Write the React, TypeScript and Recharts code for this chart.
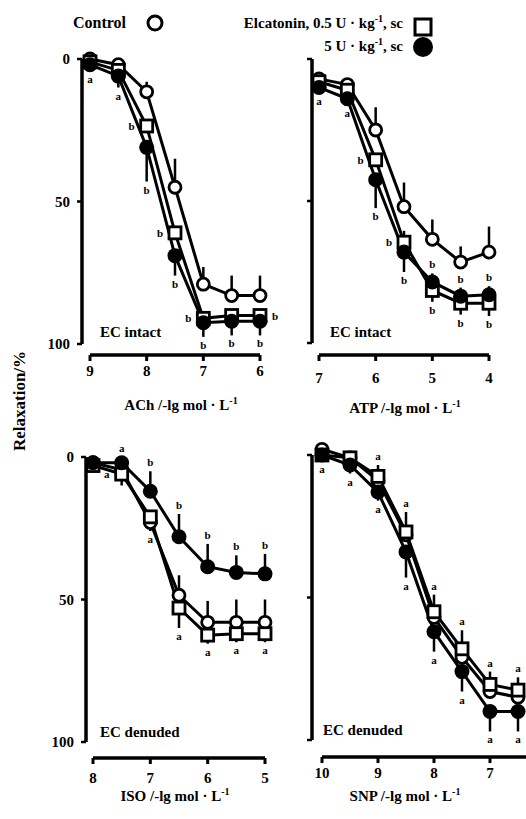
import React from 'react'
import { LineChart, Line, XAxis, YAxis, ErrorBar, ReferenceLine } from 'recharts'

const FONT = '"Liberation Serif", "DejaVu Serif", serif'

// ACh, EC intact (x = -lg mol/L, y = relaxation %)
const ACH_X = [9, 8.5, 8, 7.5, 7, 6.5, 6]
const ACH_CTL = [0, 2, 11.5, 45, 79, 83, 83]
const ACH_SQ = [1, 4, 23.5, 61, 91, 90, 90]
const ACH_FC = [2, 6, 31, 69, 92.5, 92, 92]
// signed error bars: negative = drawn upward, positive = downward
const ACH_CTL_ERR = [0, 0, -3.5, -10, -6, -7, -7]
const ACH_SQ_ERR = [0, 0, 0, 0, 0, 0, 0]
const ACH_FC_ERR = [0, 4, 12, 7, 5, 5, 5]
const ACH_FC_BELOW = ['a', 'a', 'b', 'b', 'b', 'b', 'b']
const ACH_SQ_LEFT = ['', '', 'b', 'b', 'b', '', '']
const ACH_SQ_RIGHT = ['', '', '', '', '', '', 'b']

// ATP, EC intact
const ATP_X = [7, 6.5, 6, 5.5, 5, 4.5, 4]
const ATP_CTL = [7, 9, 25, 52, 63.5, 71.5, 68]
const ATP_SQ = [8, 11, 35.5, 64.5, 81.5, 86, 86]
const ATP_FC = [10, 14, 42.5, 68, 78.5, 83.5, 83]
const ATP_CTL_ERR = [0, 0, -8, -8.5, -7, -5.5, -9]
const ATP_SQ_ERR = [0, 0, 0, -4, 4, 4, 4.5]
const ATP_FC_ERR = [0, 2, 10, 7, -3, -3, -3]
const ATP_FC_BELOW = ['a', 'a', 'b', 'b', '', '', '']
const ATP_FC_ABOVE = ['', '', '', '', 'b', 'b', 'b']
const ATP_SQ_LEFT = ['', '', 'b', 'b', '', '', '']
const ATP_SQ_BELOW = ['', '', '', '', 'b', 'b', 'b']

// ISO, EC denuded
const ISO_X = [8, 7.5, 7, 6.5, 6, 5.5, 5]
const ISO_CTL = [2, 4.5, 23, 48.5, 58, 58, 58]
const ISO_SQ = [3, 6, 21, 53, 62.5, 62, 62]
const ISO_FC = [2, 2, 12, 28, 38.5, 40.5, 41]
const ISO_CTL_ERR = [0, 0, 0, -7, -7.5, -8, -8]
const ISO_SQ_ERR = [0, 4, 5, 7, 3, 3, 3]
const ISO_FC_ERR = [0, 0, -7, -8, -8, -6, -7]
const ISO_FC_ABOVE = ['', 'a', 'b', 'b', 'b', 'b', 'b']
const ISO_SQ_LEFT = ['', 'a', '', '', '', '', '']
const ISO_SQ_BELOW = ['', '', 'a', 'a', 'a', 'a', 'a']

// SNP, EC denuded
const SNP_X = [10, 9.5, 9, 8.5, 8, 7.5, 7, 6.5]
const SNP_CTL = [-2, 1, 9, 28, 57, 71, 83, 85]
const SNP_SQ = [0, 1, 7.5, 27, 55, 68, 80.5, 82.5]
const SNP_FC = [0, 3.5, 13, 34, 62, 76, 90, 90]
const SNP_CTL_ERR = [0, 0, 0, 0, 0, 0, 0, 0]
const SNP_SQ_ERR = [0, 0, -4, -7, -6, -6.5, -4.5, -4.5]
const SNP_FC_ERR = [2, 3, 3, 9, 7, 7, 7, 7]
const SNP_FC_BELOW = ['a', 'a', 'a', 'a', 'a', 'a', 'a', 'a']
const SNP_SQ_ABOVE = ['', '', 'a', 'a', 'a', 'a', 'a', 'a']

const Y_TICKS = [0, 50, 100]

type Side = 'below' | 'above' | 'left' | 'right'
type SeriesKey = 'ctl' | 'sq' | 'fc'
type Ann = { key: SeriesKey; side: Side; text: string[] }

type Frame = {
  plotLeft: number
  a: [number, number] // [value, px] of first tick
  b: [number, number] // [value, px] of another tick
  xEnd: number // value where the x axis ends on the right
  y0: number
  y100: number
  barY: number
  tickY: number
}

const errPair = (e: number) => (e < 0 ? [-e, 0] : [0, e])

const openCircle = (p: any) => (
  <circle key={`o-${p.index}`} cx={p.cx} cy={p.cy} r={6} fill="#fff" stroke="#000" strokeWidth={2.8} />
)
const openSquare = (p: any) => (
  <rect key={`s-${p.index}`} x={p.cx - 6} y={p.cy - 6} width={12} height={12} fill="#fff" stroke="#000" strokeWidth={2.8} />
)
const filledCircle = (p: any) => (
  <circle key={`f-${p.index}`} cx={p.cx} cy={p.cy} r={7.5} fill="#000" />
)

function Panel(props: {
  frame: Frame
  xs: number[]
  ctl: number[]
  sq: number[]
  fc: number[]
  ctlErr: number[]
  sqErr: number[]
  fcErr: number[]
  xTicks: number[]
  ann: Ann[]
  yLabels: boolean
}) {
  const { frame, xs, ctl, sq, fc, ctlErr, sqErr, fcErr, xTicks, ann, yLabels } = props
  const W = 600
  const H = 819
  const YW = 50
  const XH = 40
  const ux = (frame.b[1] - frame.a[1]) / (frame.a[0] - frame.b[0])
  const xLeft = frame.a[0] + (frame.a[1] - frame.plotLeft) / ux
  const xEnd = frame.xEnd
  const plotRight = frame.a[1] + (frame.a[0] - xEnd) * ux
  const uy = (frame.y100 - frame.y0) / 100
  const yMin = -5
  const plotTop = frame.y0 + yMin * uy
  const yMax = (frame.barY - frame.y0) / uy

  const data = xs.map((x, i) => ({
    x,
    ctl: ctl[i],
    sq: sq[i],
    fc: fc[i],
    ctlE: errPair(ctlErr[i]),
    sqE: errPair(sqErr[i]),
    fcE: errPair(fcErr[i]),
  }))
  const errs: Record<SeriesKey, number[]> = { ctl: ctlErr, sq: sqErr, fc: fcErr }

  const renderAnn = (a: Ann) => (p: any) => {
    const t = a.text[p.index]
    if (!t || p.cx == null) return <g key={`n-${p.index}`} />
    const e = errs[a.key][p.index] * uy
    let x = p.cx
    let y = p.cy
    if (a.side === 'below') y = p.cy + Math.max(e, 6) + 12
    else if (a.side === 'above') y = p.cy - Math.max(-e, 6) - 5
    else if (a.side === 'left') {
      x = p.cx - 15
      y = p.cy + 4
    } else {
      x = p.cx + 15
      y = p.cy + 4
    }
    return (
      <text key={`t-${p.index}`} x={x} y={y} textAnchor="middle" fontSize={11} fontWeight={700} fontFamily={FONT} fill="#000">
        {t}
      </text>
    )
  }

  return (
    <div style={{ position: 'absolute', left: 0, top: 0 }}>
      <LineChart
        width={W}
        height={H}
        data={data}
        margin={{ left: frame.plotLeft - YW, right: W - plotRight, top: plotTop, bottom: H - frame.barY - XH }}
      >
        <XAxis
          type="number"
          dataKey="x"
          domain={[xEnd, xLeft]}
          reversed
          ticks={xTicks}
          height={XH}
          axisLine={false}
          tickSize={6}
          tickLine={{ stroke: '#000', strokeWidth: 3 }}
          tick={(p: any) => (
            <text x={p.x} y={frame.tickY} textAnchor="middle" fontSize={15} fontWeight={700} fontFamily={FONT} fill="#000">
              {p.payload.value}
            </text>
          )}
        />
        <YAxis
          type="number"
          domain={[yMin, yMax]}
          reversed
          ticks={Y_TICKS}
          width={YW}
          axisLine={false}
          tickSize={5}
          tickLine={{ stroke: '#000', strokeWidth: 2.5 }}
          tick={(p: any) => (
            <text x={frame.plotLeft - 12} y={p.y + 5} textAnchor="end" fontSize={15} fontWeight={700} fontFamily={FONT} fill="#000">
              {yLabels ? p.payload.value : ''}
            </text>
          )}
        />
        <ReferenceLine
          segment={[{ x: xLeft, y: 0 }, { x: xLeft, y: 100 }]}
          stroke="#000"
          strokeWidth={3.5}
          ifOverflow="visible"
        />
        <ReferenceLine
          segment={[{ x: xTicks[0], y: yMax }, { x: xEnd, y: yMax }]}
          stroke="#000"
          strokeWidth={3.5}
          ifOverflow="visible"
        />
        <Line dataKey="ctl" type="linear" stroke="#000" strokeWidth={3} dot={openCircle} activeDot={false} isAnimationActive={false}>
          <ErrorBar dataKey="ctlE" direction="y" width={0} stroke="#000" strokeWidth={2.5} />
        </Line>
        <Line dataKey="sq" type="linear" stroke="#000" strokeWidth={3} dot={openSquare} activeDot={false} isAnimationActive={false}>
          <ErrorBar dataKey="sqE" direction="y" width={0} stroke="#000" strokeWidth={2.5} />
        </Line>
        <Line dataKey="fc" type="linear" stroke="#000" strokeWidth={3} dot={filledCircle} activeDot={false} isAnimationActive={false}>
          <ErrorBar dataKey="fcE" direction="y" width={0} stroke="#000" strokeWidth={2.5} />
        </Line>
        {ann.map((a, k) => (
          <Line
            key={`ann-${k}`}
            dataKey={a.key}
            stroke="none"
            dot={renderAnn(a)}
            activeDot={false}
            legendType="none"
            isAnimationActive={false}
          />
        ))}
      </LineChart>
    </div>
  )
}

const F_ACH: Frame = { plotLeft: 82, a: [9, 90], b: [6, 260], xEnd: 6, y0: 59, y100: 344, barY: 355, tickY: 376 }
const F_ATP: Frame = { plotLeft: 312, a: [7, 319], b: [4, 489], xEnd: 4, y0: 59, y100: 343, barY: 355, tickY: 383 }
const F_ISO: Frame = { plotLeft: 86, a: [8, 93], b: [5, 265], xEnd: 5, y0: 457, y100: 742, barY: 758, tickY: 783 }
const F_SNP: Frame = { plotLeft: 312, a: [10, 322], b: [7, 490], xEnd: 6, y0: 455, y100: 740, barY: 757, tickY: 778 }

const txt = { fontFamily: FONT, fontWeight: 700, fill: '#000' } as const

export default function App() {
  return (
    <div style={{ position: 'fixed', left: 0, top: 0, width: 526, height: 819, overflow: 'hidden', background: '#fff' }}>
      <Panel
        frame={F_ACH}
        xs={ACH_X}
        ctl={ACH_CTL}
        sq={ACH_SQ}
        fc={ACH_FC}
        ctlErr={ACH_CTL_ERR}
        sqErr={ACH_SQ_ERR}
        fcErr={ACH_FC_ERR}
        xTicks={[9, 8, 7, 6]}
        ann={[
          { key: 'fc', side: 'below', text: ACH_FC_BELOW },
          { key: 'sq', side: 'left', text: ACH_SQ_LEFT },
          { key: 'sq', side: 'right', text: ACH_SQ_RIGHT },
        ]}
        yLabels
      />
      <Panel
        frame={F_ATP}
        xs={ATP_X}
        ctl={ATP_CTL}
        sq={ATP_SQ}
        fc={ATP_FC}
        ctlErr={ATP_CTL_ERR}
        sqErr={ATP_SQ_ERR}
        fcErr={ATP_FC_ERR}
        xTicks={[7, 6, 5, 4]}
        ann={[
          { key: 'fc', side: 'below', text: ATP_FC_BELOW },
          { key: 'fc', side: 'above', text: ATP_FC_ABOVE },
          { key: 'sq', side: 'left', text: ATP_SQ_LEFT },
          { key: 'sq', side: 'below', text: ATP_SQ_BELOW },
        ]}
        yLabels={false}
      />
      <Panel
        frame={F_ISO}
        xs={ISO_X}
        ctl={ISO_CTL}
        sq={ISO_SQ}
        fc={ISO_FC}
        ctlErr={ISO_CTL_ERR}
        sqErr={ISO_SQ_ERR}
        fcErr={ISO_FC_ERR}
        xTicks={[8, 7, 6, 5]}
        ann={[
          { key: 'fc', side: 'above', text: ISO_FC_ABOVE },
          { key: 'sq', side: 'left', text: ISO_SQ_LEFT },
          { key: 'sq', side: 'below', text: ISO_SQ_BELOW },
        ]}
        yLabels
      />
      <Panel
        frame={F_SNP}
        xs={SNP_X}
        ctl={SNP_CTL}
        sq={SNP_SQ}
        fc={SNP_FC}
        ctlErr={SNP_CTL_ERR}
        sqErr={SNP_SQ_ERR}
        fcErr={SNP_FC_ERR}
        xTicks={[10, 9, 8, 7]}
        ann={[
          { key: 'fc', side: 'below', text: SNP_FC_BELOW },
          { key: 'sq', side: 'above', text: SNP_SQ_ABOVE },
        ]}
        yLabels={false}
      />
      <svg width={526} height={819} style={{ position: 'absolute', left: 0, top: 0, pointerEvents: 'none' }}>
        {/* legend */}
        <text x={73} y={28} fontSize={16} {...txt}>Control</text>
        <circle cx={155} cy={23} r={7} fill="#fff" stroke="#000" strokeWidth={3} />
        <text x={403} y={28} fontSize={15} textAnchor="end" {...txt}>
          Elcatonin, 0.5 U · kg<tspan dy={-6} fontSize={10}>-1</tspan>
          <tspan dy={6}>, sc</tspan>
        </text>
        <rect x={415} y={19} width={16} height={16} fill="#fff" stroke="#000" strokeWidth={3} />
        <text x={403} y={51} fontSize={15} textAnchor="end" {...txt}>
          5 U · kg<tspan dy={-6} fontSize={10}>-1</tspan>
          <tspan dy={6}>, sc</tspan>
        </text>
        <circle cx={423} cy={47} r={10} fill="#000" />

        <text transform="translate(25 401) rotate(-90)" fontSize={17} textAnchor="middle" {...txt}>Relaxation/%</text>

        <text x={181} y={410} fontSize={15} textAnchor="middle" {...txt}>
          ACh /-lg mol · L<tspan dy={-6} fontSize={10}>-1</tspan>
        </text>
        <text x={405} y={413} fontSize={15} textAnchor="middle" {...txt}>
          ATP /-lg mol · L<tspan dy={-6} fontSize={10}>-1</tspan>
        </text>
        <text x={175} y={801} fontSize={15} textAnchor="middle" {...txt}>
          ISO /-lg mol · L<tspan dy={-6} fontSize={10}>-1</tspan>
        </text>
        <text x={405} y={801} fontSize={15} textAnchor="middle" {...txt}>
          SNP /-lg mol · L<tspan dy={-6} fontSize={10}>-1</tspan>
        </text>

        <text x={100} y={337} fontSize={15} {...txt}>EC intact</text>
        <text x={330} y={337} fontSize={15} {...txt}>EC intact</text>
        <text x={100} y={737} fontSize={15} {...txt}>EC denuded</text>
        <text x={323} y={735} fontSize={15} {...txt}>EC denuded</text>
      </svg>
    </div>
  )
}
